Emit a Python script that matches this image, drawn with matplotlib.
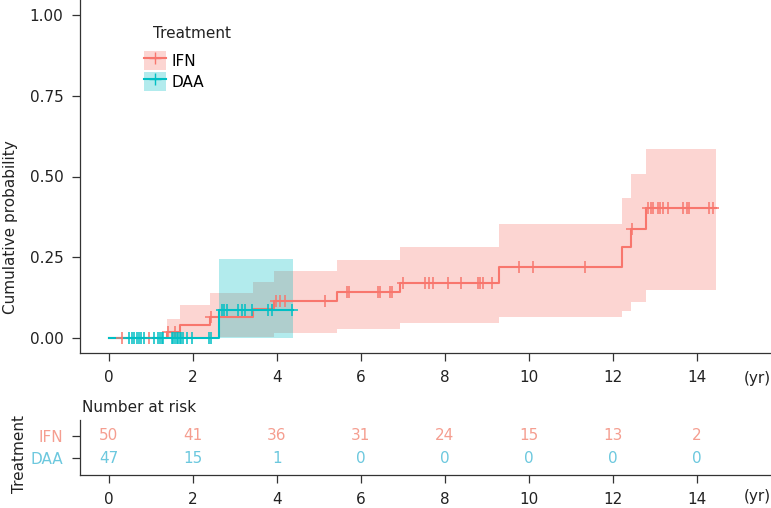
import numpy as np
import matplotlib
matplotlib.use('Agg')
import matplotlib.pyplot as plt
from matplotlib.patches import Patch
from matplotlib.lines import Line2D

plt.rcParams['font.family'] = ['DejaVu Sans']

RED = '#F8766D'
TEAL = '#00BFC4'
RED_TXT = '#F59E90'
TEAL_TXT = '#6CC8DE'
AXC = '#333333'

# --- IFN cumulative incidence (step times, estimate, CI) ---
ifn_t = [0, 1.37, 1.68, 2.40, 3.43, 3.93, 5.42, 6.94, 9.29, 12.22, 12.42, 12.79]
ifn_est = [0, 0.020, 0.041, 0.066, 0.090, 0.114, 0.141, 0.171, 0.219, 0.283, 0.338, 0.403]
ifn_up = [0, 0.059, 0.102, 0.140, 0.172, 0.207, 0.241, 0.281, 0.352, 0.434, 0.508, 0.584]
ifn_lo = [0, 0.000, 0.001, 0.002, 0.003, 0.017, 0.028, 0.047, 0.064, 0.085, 0.112, 0.149]
ifn_end = 14.45

# --- DAA ---
daa_t = [0, 2.62]
daa_est = [0, 0.087]
daa_up = [0, 0.244]
daa_lo = [0, 0.0]
daa_end = 4.37

# censoring marks
ifn_cens = [0.32, 0.96, 1.41, 1.57, 2.44, 3.97, 4.07, 4.19, 5.14,
            5.66, 5.72, 6.40, 6.45, 6.69, 6.73,
            7.01, 7.52, 7.62, 7.72, 8.08, 8.37, 8.79, 8.84, 8.91, 9.11,
            9.77, 10.10, 11.33, 12.45,
            12.84, 12.90, 12.96, 13.08, 13.12, 13.20, 13.32, 13.67, 13.75, 13.81, 14.29, 14.39]
daa_cens = [0.48, 0.54, 0.60, 0.66, 0.72, 0.77, 0.84, 1.06, 1.17, 1.21, 1.25, 1.29,
            1.49, 1.53, 1.57, 1.61, 1.65, 1.69, 1.72, 1.77, 1.85, 1.97, 2.37, 2.44,
            2.68, 2.74, 2.82, 3.08, 3.16, 3.24, 3.40, 3.79, 3.87, 4.35]

# number at risk
risk_times = [0, 2, 4, 6, 8, 10, 12, 14]
ifn_risk = [50, 41, 36, 31, 24, 15, 13, 2]
daa_risk = [47, 15, 1, 0, 0, 0, 0, 0]
xticks = [0, 2, 4, 6, 8, 10, 12, 14]
yticks = [0.00, 0.25, 0.50, 0.75, 1.00]


def step_value(ts, vals, x):
    idx = np.searchsorted(ts, x, side='right') - 1
    return np.asarray(vals)[idx]


W, H = 771, 508
fig = plt.figure(figsize=(W / 100, H / 100), dpi=100)


def px(x, y):
    # pixel position (from top-left) -> figure fraction
    return x / W, 1 - y / H


ax = fig.add_axes([80 / W, 1 - 353 / H, (W - 80) / W, 353 / H])
xl = ((80 - 109) / 42, (771 - 109) / 42)
ax.set_xlim(*xl)
ax.set_ylim(-0.0464, 1.0464)

curves = [
    (ifn_t, ifn_est, ifn_up, ifn_lo, ifn_end, ifn_cens, RED),
    (daa_t, daa_est, daa_up, daa_lo, daa_end, daa_cens, TEAL),
]
for t, est, up, lo, end, cens, c in curves:
    tt = list(t) + [end]
    ax.fill_between(tt, list(lo) + [lo[-1]], list(up) + [up[-1]], step='post',
                    color=c, alpha=0.3, linewidth=0, zorder=1)
for t, est, up, lo, end, cens, c in curves:
    tt = list(t) + [end]
    ax.step(tt, list(est) + [est[-1]], where='post', color=c, lw=1.5, zorder=3)
    cy = step_value(t, est, np.array(cens))
    ax.plot(cens, cy, ls='none', marker='+', ms=8, mew=1.1, color=c, zorder=4)

for s in ['top', 'right']:
    ax.spines[s].set_visible(False)
for s in ['left', 'bottom']:
    ax.spines[s].set_color(AXC)
    ax.spines[s].set_linewidth(0.9)
ax.set_xticks(xticks)
ax.set_yticks(yticks)
ax.set_yticklabels([f'{v:.2f}' for v in yticks])
ax.tick_params(colors=AXC, labelcolor='#222222', labelsize=11, length=6, width=0.9, pad=6)

fig.text(*px(757, 378), '(yr)', fontsize=11, ha='center', va='center', color='#222222')
fig.text(*px(11, 227), 'Cumulative probability', rotation=90,
         ha='center', va='center', fontsize=11, color='#222222')

# legend
fig.text(*px(153, 33), 'Treatment', ha='left', va='center', fontsize=11, color='#222222')
handles = [(Patch(fc=RED, alpha=0.3, lw=0), Line2D([], [], color=RED, marker='+', ms=8, lw=1.5)),
           (Patch(fc=TEAL, alpha=0.3, lw=0), Line2D([], [], color=TEAL, marker='+', ms=8, lw=1.5))]
ax.legend(handles, ['IFN', 'DAA'], frameon=False,
          loc='upper left', bbox_to_anchor=px(133, 40),
          bbox_transform=fig.transFigure, fontsize=11,
          handlelength=1.45, handleheight=1.6, handletextpad=0.4,
          labelspacing=0.1, borderpad=0.2)

# --- risk table ---
at = fig.add_axes([80 / W, 1 - 475 / H, (W - 80) / W, 55 / H])
at.set_xlim(*xl)
at.set_ylim(0.238, 2.704)
for x, n in zip(risk_times, ifn_risk):
    at.text(x, 2, str(n), ha='center', va='center', fontsize=11, color=RED_TXT)
for x, n in zip(risk_times, daa_risk):
    at.text(x, 1, str(n), ha='center', va='center', fontsize=11, color=TEAL_TXT)
for s in ['top', 'right']:
    at.spines[s].set_visible(False)
for s in ['left', 'bottom']:
    at.spines[s].set_color(AXC)
    at.spines[s].set_linewidth(0.9)
at.set_xticks(xticks)
at.set_yticks([2, 1])
at.set_yticklabels(['IFN', 'DAA'])
at.tick_params(colors=AXC, labelsize=11, length=6, width=0.9, pad=6)
for lab in at.get_xticklabels():
    lab.set_color('#222222')
for lab, c in zip(at.get_yticklabels(), [RED_TXT, TEAL_TXT]):
    lab.set_color(c)
fig.text(*px(757, 497), '(yr)', fontsize=11, ha='center', va='center', color='#222222')

fig.text(*px(82, 408), 'Number at risk', ha='left', va='center',
         fontsize=11, color='#222222')
fig.text(*px(20, 454), 'Treatment', rotation=90, ha='center', va='center',
         fontsize=11, color='#222222')

fig.savefig('out.png', dpi=100)
